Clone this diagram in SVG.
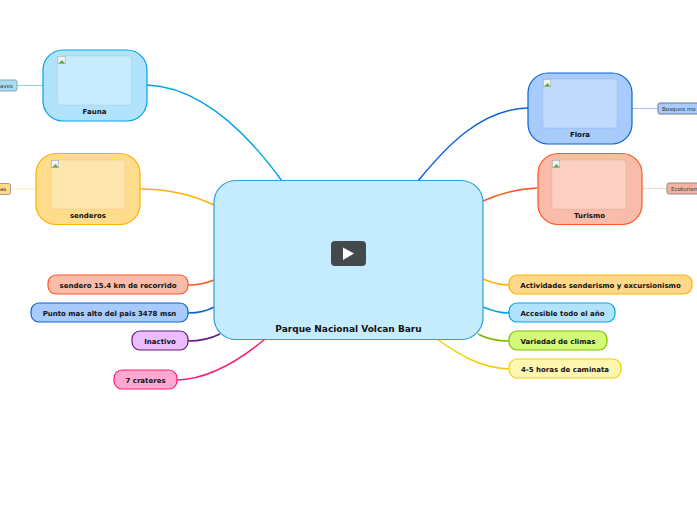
<svg xmlns="http://www.w3.org/2000/svg" width="697" height="520" viewBox="0 0 697 520">
<style>
text{font-family:"DejaVu Sans",sans-serif;font-weight:bold;font-size:7px;fill:#111;text-anchor:middle}
.c{fill:none;stroke-width:1.5}
.l{fill:none;stroke-width:1}
.s{font-size:5.5px;font-weight:normal;fill:#333}
.st{text-anchor:start}
.n{stroke-width:1.2}
.in{stroke:#000;stroke-opacity:.06;stroke-width:1;fill:#fff;fill-opacity:.3}
.ph{fill:#eef3f8;stroke:#a8a8a8;stroke-width:.6}
.g{fill:#5fa83a}
</style>
<defs>
<g id="broken"><rect class="ph" x="0.300" y="0.300" width="7.400" height="7.400"/><path class="g" d="M1 7.500L4.500 4L7.500 7.500Z"/></g>
</defs>
<g id="connectors">
<path class="c" stroke="#00a3e8" d="M147 85C200 87 245 130 282 181"/>
<path class="c" stroke="#ffb000" d="M140 189C170 189 195 196 214 205"/>
<path class="c" stroke="#0b63d6" d="M528 108C480 109 445 148 418 181"/>
<path class="c" stroke="#ff5722" d="M537 188C515 189 498 194 483 201"/>
<path class="c" stroke="#ff5722" d="M188 285C198 285 207 283 214 280"/>
<path class="c" stroke="#0b63d6" d="M188 313C198 313 207 311 214 307"/>
<path class="c" stroke="#5c1a80" d="M188 341C200 341 212 338 220 334"/>
<path class="c" stroke="#ff1a78" d="M177 380C210 379 240 360 265 339"/>
<path class="c" stroke="#ffb000" d="M509 285C498 285 490 282 483 279"/>
<path class="c" stroke="#00a3e8" d="M509 313C498 313 490 310 483 307"/>
<path class="c" stroke="#7fba00" d="M509 341C495 341 487 339 478 334"/>
<path class="c" stroke="#f0d000" d="M509 369C480 368 458 354 437 339"/>
<path class="l" stroke="#8fd3f4" d="M17 85.500H43"/>
<path class="l" stroke="#ffe8b8" d="M11 189H36"/>
<path class="l" stroke="#a0c4f8" d="M632 108.500H658"/>
<path class="l" stroke="#fdd5c8" d="M642 188.500H667"/>
</g>
<g id="central">
<rect class="n" x="214" y="180.500" width="269" height="159" rx="22" fill="#c5ebff" stroke="#2d9fd9"/>
<rect x="331" y="241" width="35" height="25" rx="4" fill="#43494d"/>
<path d="M343 247.500L354 253.500L343 260Z" fill="#fff"/>
<text x="348.500" y="332" style="font-size:9px">Parque Nacional Volcan Baru</text>
</g>
<g id="fauna">
<rect class="n" x="43" y="50" width="104" height="71" rx="20" fill="#b1e4fc" stroke="#00a3e8"/>
<rect class="in" x="57.500" y="56" width="74" height="49" rx="3"/>
<use href="#broken" x="57.500" y="56"/>
<text x="94.500" y="114">Fauna</text>
</g>
<g id="fauna-sub">
<rect x="-40" y="80" width="57" height="11" rx="2" fill="#a9dcf3" stroke="#8aa" stroke-width="1"/>
<text class="s" x="6.500" y="87.500">aves</text>
</g>
<g id="senderos">
<rect class="n" x="36" y="153.500" width="104" height="71" rx="20" fill="#ffdc8c" stroke="#ffb000"/>
<rect class="in" x="51" y="160" width="74" height="49" rx="3"/>
<use href="#broken" x="51" y="160"/>
<text x="88" y="218">senderos</text>
</g>
<g id="senderos-sub">
<rect x="-40" y="183.500" width="50.500" height="11" rx="2" fill="#ffd88a" stroke="#a98" stroke-width="1"/>
<text class="s" x="3" y="191">as</text>
</g>
<g id="flora">
<rect class="n" x="528" y="73" width="104" height="71" rx="20" fill="#a6cbfc" stroke="#0b63d6"/>
<rect class="in" x="543" y="79" width="74" height="49" rx="3"/>
<use href="#broken" x="543" y="79"/>
<text x="580" y="137">Flora</text>
</g>
<g id="flora-sub">
<rect x="658" y="103" width="60" height="11" rx="2" fill="#a6cbfc" stroke="#778" stroke-width="1"/>
<text class="s st" x="662" y="110.500">Bosques mo</text>
</g>
<g id="turismo">
<rect class="n" x="538" y="153.500" width="104" height="71" rx="20" fill="#fabcaa" stroke="#ff5722"/>
<rect class="in" x="552" y="160" width="74" height="49" rx="3"/>
<use href="#broken" x="552" y="160"/>
<text x="589.500" y="218">Turismo</text>
</g>
<g id="turismo-sub">
<rect x="667" y="183" width="60" height="11" rx="2" fill="#f4b2a2" stroke="#988" stroke-width="1"/>
<text class="s st" x="671" y="190.500">Ecoturism</text>
</g>
<g id="sendero-km"><rect class="n" x="48" y="275" width="140" height="19" rx="8" fill="#f9bca8" stroke="#ff5722"/><text x="118" y="288">sendero 15.4 km de recorrido</text></g>
<g id="punto"><rect class="n" x="31" y="303" width="157" height="19" rx="8" fill="#a6cbfc" stroke="#0b63d6"/><text x="109.500" y="316">Punto mas alto del pais 3478 msn</text></g>
<g id="inactivo"><rect class="n" x="132" y="331" width="56" height="19" rx="8" fill="#ebbdff" stroke="#5c1a80"/><text x="160" y="344">Inactivo</text></g>
<g id="crateres"><rect class="n" x="114" y="370" width="63" height="19" rx="8" fill="#ffa9d0" stroke="#ff1a78"/><text x="145.500" y="383">7 crateres</text></g>
<g id="actividades"><rect class="n" x="509" y="275" width="183" height="19" rx="8" fill="#ffd88a" stroke="#ffb000"/><text x="600.500" y="288">Actividades senderismo y excursionismo</text></g>
<g id="accesible"><rect class="n" x="509" y="303" width="106" height="19" rx="8" fill="#b1e4fc" stroke="#00a3e8"/><text x="562.500" y="316">Accesible todo el año</text></g>
<g id="variedad"><rect class="n" x="509" y="331" width="98" height="19" rx="8" fill="#d2fa78" stroke="#7fba00"/><text x="558" y="344">Variedad de climas</text></g>
<g id="horas"><rect class="n" x="509" y="359" width="112" height="19" rx="8" fill="#fff7b0" stroke="#f0d000"/><text x="565" y="372">4-5 horas de caminata</text></g>
</svg>
